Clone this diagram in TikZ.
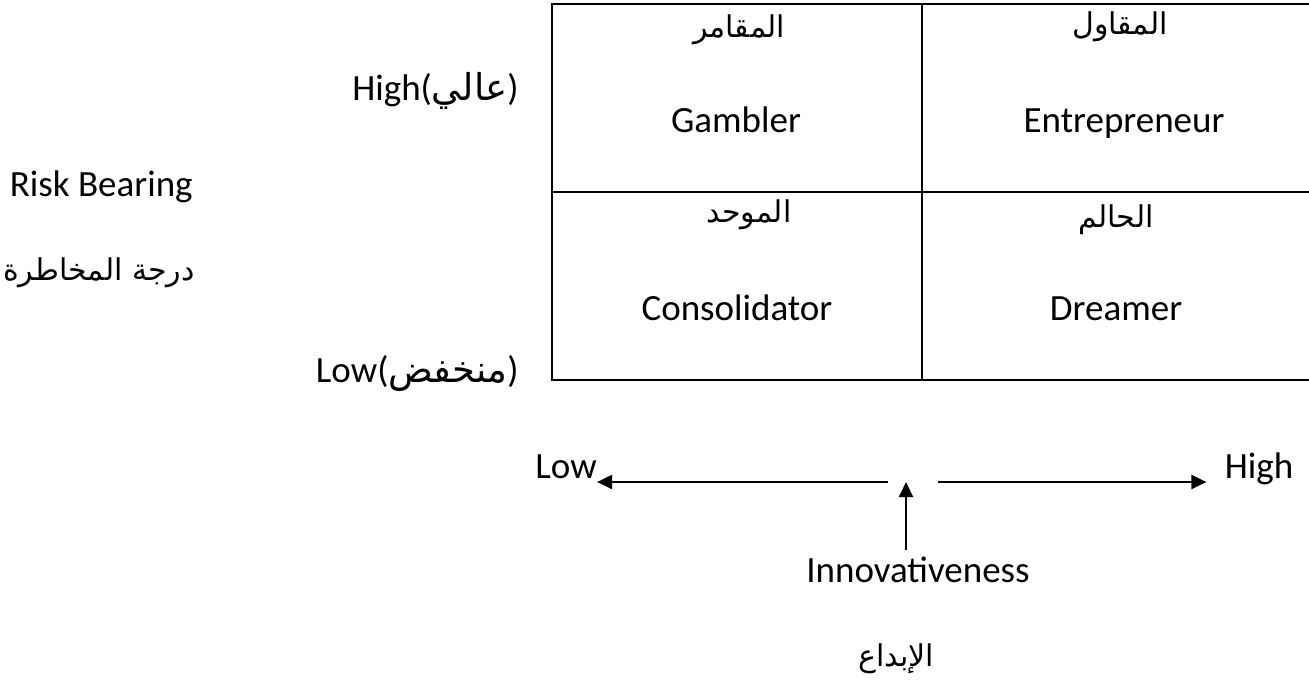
\documentclass[tikz,border=0pt]{standalone}
\usepackage{fontspec}
\setmainfont{Carlito}
\newfontfamily\arabicfont[Script=Arabic]{DejaVu Sans}
\TeXXeTstate=1
\usepackage{tikz}
\usetikzlibrary{arrows.meta, positioning}
\tikzset{>={Triangle[length=7.5pt, width=7pt]}}
\tikzset{
    lbl/.style={font=\fontsize{18.5}{20}\selectfont, inner sep=0pt},
    arlbl/.style={font=\arabicfont\fontsize{15}{18}\selectfont, inner sep=0pt},
    gridline/.style={line width=1.3pt},
    axisline/.style={line width=1pt}
}

\begin{document}
\begin{tikzpicture}[x=0.5pt, y=-0.5pt]
        \useasboundingbox (0,0) rectangle (1309,686);
        % matrix
        \draw[gridline](1310,4) -| (552,380) -- (1310,380);
        \draw[gridline](922,4)--(922,380);
        \draw[gridline](552,192)--(1310,192);
        % cells
        \node[lbl, anchor=base](gam) at (736,132){Gambler};
        \node[arlbl, anchor=base](gamar) at (739,37){\beginR المقامر\endR};
        \node[lbl, anchor=base](ent) at (1124,132){Entrepreneur};
        \node[arlbl, anchor=base](entar) at (1120,34){\beginR المقاول\endR};
        \node[lbl, anchor=base](con) at (737,320){Consolidator};
        \node[arlbl, anchor=base](conar) at (749,222){\beginR الموحد\endR};
        \node[lbl, anchor=base](dre) at (1116,320){Dreamer};
        \node[arlbl, anchor=base](drear) at (1116,227){\beginR الحالم\endR};
        % vertical axis
        \node[lbl, anchor=base east](yhigh) at (519,100){High({\arabicfont\beginR عالي\endR})};
        \node[lbl, anchor=base east](ylow) at (519,382){Low({\arabicfont\beginR منخفض\endR})};
        \node[lbl, anchor=base east](risk) at (193,196){Risk Bearing};
        \node[arlbl, anchor=base east](riskar) at (195,280){\beginR درجة المخاطرة\endR};
        % horizontal axis
        \node[lbl, anchor=base](xlow) at (566,478){Low};
        \node[lbl, anchor=base](xhigh) at (1259,478){High};
        \coordinate (lgap) at (888,482);
        \coordinate (rgap) at (938,482);
        \coordinate (axis) at (906,482);
        \draw[axisline, ->](lgap)--(xlow.east |- lgap);
        \draw[axisline, ->](rgap)--([xshift=-9pt]xhigh.west |- rgap);
        \node[lbl, anchor=base](innov) at (918,582){Innovativeness};
        \node[arlbl, anchor=base](innovar) at (896,666){\beginR الإبداع\endR};
        \draw[axisline, ->](axis |- innov.north)++(0,-6)--(axis);
    \end{tikzpicture}
\end{document}
